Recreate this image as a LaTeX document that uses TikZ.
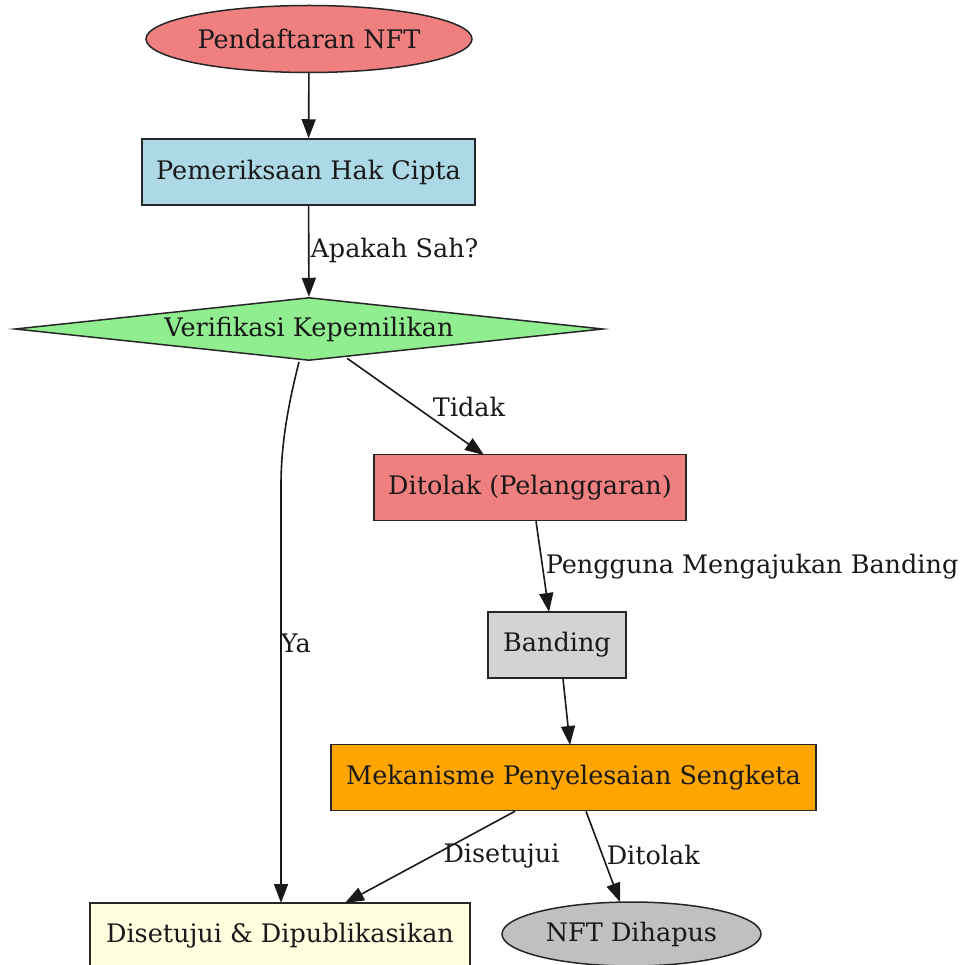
\documentclass[tikz,border=0pt]{standalone}
\usepackage{fontspec}
\setmainfont{DejaVu Serif}
\usetikzlibrary{shapes.geometric,arrows.meta}
\definecolor{lcoral}{HTML}{F08080}
\definecolor{lblue}{HTML}{ADD8E6}
\definecolor{lgreen}{HTML}{90EE90}
\definecolor{lgray}{HTML}{D3D3D3}
\definecolor{orng}{HTML}{FFA500}
\definecolor{lyellow}{HTML}{FFFFE0}
\definecolor{gry}{HTML}{C0C0C0}
\tikzset{
  base/.style={draw=black!85, line width=1.5pt, font=\fontsize{25.5}{30}\selectfont, inner sep=0pt, text=black!90},
  boxn/.style={base, rectangle, minimum height=66pt},
  ell/.style={base, ellipse},
  edge/.style={line width=1.6pt, draw=black!90, -{Triangle[length=19pt,width=14pt]}},
  lbl/.style={font=\fontsize{25.5}{30}\selectfont, text=black!90, inner sep=0pt, anchor=west}
}
\begin{document}
\begin{tikzpicture}[x=1pt,y=-1pt]
\useasboundingbox (0,0) rectangle (959,965);
\node[ell, fill=lcoral, minimum width=326pt, minimum height=67pt] (start) at (309,39) {Pendaftaran NFT};
\node[boxn, fill=lblue, minimum width=333pt] (check) at (308.5,172) {Pemeriksaan Hak Cipta};
\node[base, diamond, aspect=9.3, fill=lgreen, minimum width=588pt, minimum height=63pt] (verif) at (309,329) {Verifikasi Kepemilikan};
\node[boxn, fill=lcoral, minimum width=312pt] (reject) at (530,487.5) {Ditolak (Pelanggaran)};
\node[boxn, fill=lgray, minimum width=138pt] (appeal) at (557,645) {Banding};
\node[boxn, fill=orng, minimum width=485pt] (dispute) at (573.5,777.5) {Mekanisme Penyelesaian Sengketa};
\node[boxn, fill=lyellow, minimum width=380pt, minimum height=66pt] (approved) at (280,936) {Disetujui \& Dipublikasikan};
\node[ell, fill=gry, minimum width=259pt, minimum height=64pt] (deleted) at (631.5,934) {NFT Dihapus};

\coordinate (yaS) at (299,362);
\draw[edge] (start) -- (check);
\draw[edge] (check) -- node[lbl, pos=0.49, xshift=1pt] {Apakah Sah?} (verif);
\draw[edge] (verif.south) ++(38,-3) coordinate (tS) -- node[lbl, pos=0.505, xshift=16pt] {Tidak} (484,455) coordinate (tE);
\draw[edge] (reject.south) ++(6,0) -- node[lbl, pos=0.5, xshift=2.5pt] {Pengguna Mengajukan Banding} (549,612);
\draw[edge] (appeal.south) ++(6,0) -- (570,745);
\draw[edge] (yaS) .. controls (288,405) and (281,445) .. (281,485) -- node[lbl, pos=0.38, xshift=-1pt] {Ya} (281,903);
\draw[edge] (dispute.south) ++(-58.5,0) -- node[lbl, pos=0.484, xshift=10pt] {Disetujui} (345,903);
\draw[edge] (dispute.south) ++(12.5,0) -- node[lbl, pos=0.484, xshift=3.5pt] {Ditolak} (620,902);
\end{tikzpicture}
\end{document}
